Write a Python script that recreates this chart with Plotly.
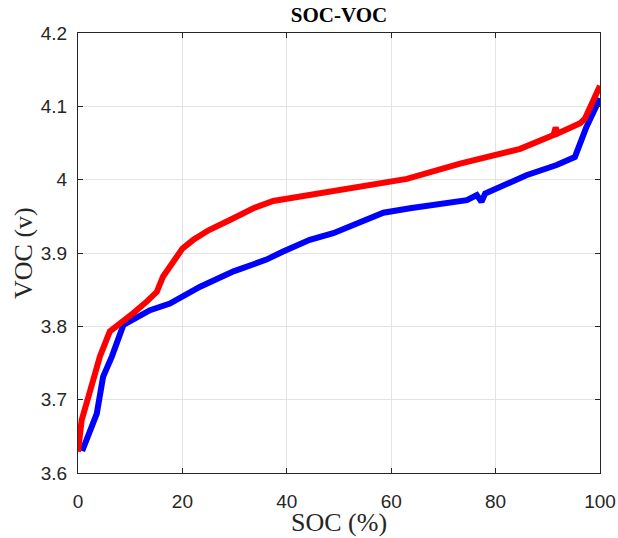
import plotly.graph_objects as go

# Open-circuit voltage vs state of charge, two curves
soc_red = [0, 0.7, 2.0, 4.2, 6.1, 8.7, 10.6, 13.2, 15.1, 16.3, 17.6, 20.0, 22.1, 25.0,
           29.1, 33.6, 37.4, 44.4, 54.7, 60.1, 63.0, 73.2, 80.2, 84.7, 91.1, 91.5, 91.9,
           96.2, 97.1, 100]
voc_red = [3.629, 3.672, 3.704, 3.759, 3.793, 3.809, 3.818, 3.834, 3.847, 3.868, 3.881,
           3.906, 3.918, 3.931, 3.945, 3.961, 3.971, 3.979, 3.990, 3.997, 4.001, 4.022,
           4.035, 4.042, 4.061, 4.071, 4.063, 4.077, 4.083, 4.128]

soc_blue = [0.8, 3.6, 4.8, 6.5, 8.7, 11.2, 13.8, 17.6, 23.4, 29.8, 36.1, 39.3, 44.4,
            48.9, 54.7, 58.5, 63.6, 71.9, 74.5, 76.4, 77.3, 78.0, 80.8, 85.9, 91.7,
            95.2, 97.4, 100]
voc_blue = [3.630, 3.681, 3.731, 3.759, 3.802, 3.811, 3.822, 3.831, 3.854, 3.875, 3.891,
            3.902, 3.918, 3.927, 3.945, 3.955, 3.961, 3.968, 3.972, 3.979, 3.970, 3.981,
            3.990, 4.006, 4.020, 4.031, 4.072, 4.111]

x_ticks = [0, 20, 40, 60, 80, 100]
y_ticks = [3.6, 3.7, 3.8, 3.9, 4.0, 4.1, 4.2]
y_tick_text = ["3.6", "3.7", "3.8", "3.9", "4", "4.1", "4.2"]

fig = go.Figure()
fig.add_trace(go.Scatter(x=soc_blue, y=voc_blue, mode="lines",
                         line=dict(color="#0000ff", width=6), showlegend=False))
fig.add_trace(go.Scatter(x=soc_red, y=voc_red, mode="lines",
                         line=dict(color="#ff0000", width=6), showlegend=False))

axis_common = dict(
    showline=True, linecolor="#262626", linewidth=1, mirror="ticks",
    ticks="inside", ticklen=5, tickcolor="#262626", automargin=False,
    showgrid=True, gridcolor="#e3e3e3", gridwidth=1, zeroline=False,
    tickfont=dict(family="Liberation Sans, Arial", size=19, color="#262626"),
)

fig.update_xaxes(range=[0, 100], tickvals=x_ticks, ticklabelstandoff=11, **axis_common)
fig.update_yaxes(range=[3.6, 4.2], tickvals=y_ticks, ticktext=y_tick_text,
                 ticklabelstandoff=6, **axis_common)

serif = "Liberation Serif, Times New Roman"
fig.update_layout(
    width=618, height=538,
    margin=dict(l=78, r=18, t=33, b=65),
    paper_bgcolor="white", plot_bgcolor="white",
    title=dict(text="<b>SOC-VOC</b>", x=0.5, xref="paper", y=1 - 15 / 538,
               yref="container", yanchor="middle", xanchor="center",
               font=dict(family=serif, size=21, color="black")),
    annotations=[
        dict(text="SOC (%)", xref="paper", yref="paper", x=0.5, y=0, yshift=-49,
             xanchor="center", yanchor="middle", showarrow=False,
             font=dict(family=serif, size=26, color="#262626")),
        dict(text="VOC (v)", xref="paper", yref="paper", x=0, y=0.5, xshift=-55,
             xanchor="center", yanchor="middle", showarrow=False, textangle=-90,
             font=dict(family=serif, size=26, color="#262626")),
    ],
)

fig.write_html("out.html")
